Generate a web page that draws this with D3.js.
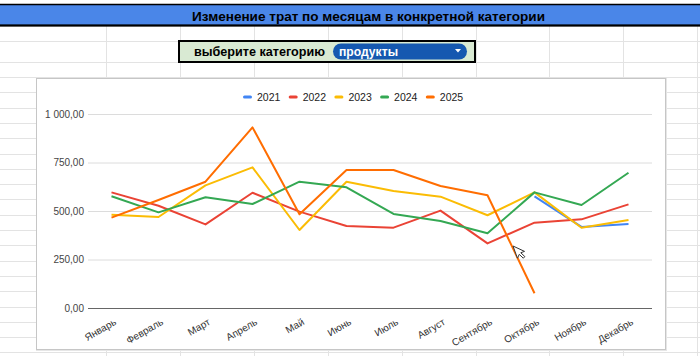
<!DOCTYPE html>
<html><head><meta charset="utf-8">
<script src="https://cdn.jsdelivr.net/npm/d3@7"></script>
<style>html,body{margin:0;padding:0;background:#fff;}svg{display:block;}</style>
</head><body>
<svg id="c" width="700" height="356"></svg>
<script>
const months = ["Январь","Февраль","Март","Апрель","Май","Июнь","Июль","Август","Сентябрь","Октябрь","Ноябрь","Декабрь"];
const years = ["2021","2022","2023","2024","2025"];
const colors = ["#4285f4","#ea4335","#fbbc04","#34a853","#ff6d01"];
const v2021 = [null,null,null,null,null,null,null,null,null,575,418,433];
const v2022 = [596,527,431,594,497,423,414,502,333,440,457,534];
const v2023 = [481,469,632,725,402,651,603,574,478,596,414,454];
const v2024 = [576,493,571,536,651,622,485,448,385,596,531,697];
const v2025 = [466,557,651,931,483,711,711,629,581,76,null,null];
const yTicks = [0,250,500,750,1000];
const titleText = "Изменение трат по месяцам в конкретной категории";
const pickLabel = "выберите категорию";
const pickValue = "продукты";

const series = [v2021,v2022,v2023,v2024,v2025];
const svg = d3.select("#c");
const FONT = "'Liberation Sans', Arial, sans-serif";

// spreadsheet grid
const grid = svg.append("g").attr("stroke","#e3e3e3").attr("stroke-width",1);
const colX = d3.range(9).map(i => 106 + i*73.9);
colX.forEach(x => grid.append("line").attr("x1",Math.round(x)+0.5).attr("x2",Math.round(x)+0.5).attr("y1",26).attr("y2",356));
const rowY = [41,62].concat(d3.range(19).map(i => 77 + i*15.3));
rowY.forEach(y => grid.append("line").attr("x1",0).attr("x2",700).attr("y1",Math.round(y)+0.5).attr("y2",Math.round(y)+0.5));

// header band
svg.append("rect").attr("x",-2).attr("y",4.5).attr("width",704).attr("height",21).attr("fill","#4a86e8").attr("stroke","#000").attr("stroke-width",1.5);
svg.append("line").attr("x1",0).attr("x2",700).attr("y1",25.5).attr("y2",25.5).attr("stroke","#000").attr("stroke-width",2);
svg.append("text").attr("x",192).attr("y",20.5).attr("font-family",FONT).attr("font-weight","bold").attr("font-size",13.5)
  .attr("textLength",353).attr("lengthAdjust","spacingAndGlyphs").attr("fill","#000").text(titleText);

// picker
svg.append("rect").attr("x",179).attr("y",41).attr("width",296).attr("height",21).attr("fill","#d9ead3").attr("stroke","#000").attr("stroke-width",2);
svg.append("text").attr("x",194).attr("y",55.5).attr("font-family",FONT).attr("font-weight","bold").attr("font-size",13.5)
  .attr("textLength",131).attr("lengthAdjust","spacingAndGlyphs").attr("fill","#000").text(pickLabel);
svg.append("rect").attr("x",333).attr("y",43.5).attr("width",134).attr("height",16).attr("rx",8).attr("fill","#1558b0");
svg.append("text").attr("x",339).attr("y",55.5).attr("font-family",FONT).attr("font-weight","bold").attr("font-size",13.5)
  .attr("textLength",59).attr("lengthAdjust","spacingAndGlyphs").attr("fill","#fff").text(pickValue);
svg.append("path").attr("d","M455,49 L461,49 L458,52.5 Z").attr("fill","#fff");

// chart box
svg.append("rect").attr("x",37).attr("y",79).attr("width",629).attr("height",271).attr("fill","none").attr("stroke","#e6e6e6").attr("stroke-width",2);
svg.append("rect").attr("x",36.5).attr("y",78.5).attr("width",629).attr("height",271).attr("fill","#fff").attr("stroke","#c6c6c6").attr("stroke-width",1);

const x = d3.scalePoint().domain(months).range([88,652]).padding(0.5);
const y = d3.scaleLinear().domain([0,1000]).range([308,114]);
const fmt = v => d3.formatLocale({decimal:",",thousands:"\u00a0",grouping:[3],currency:["",""]}).format(",.2f")(v).replace(/\u00a0/g," ");

// gridlines + y labels
const yAxis = d3.axisLeft(y).tickValues(yTicks).tickSize(-(652-88)).tickPadding(4).tickFormat(fmt);
const ya = svg.append("g").attr("transform","translate(88,0)").call(yAxis);
ya.select(".domain").remove();
ya.selectAll(".tick line").attr("stroke",d => d===0 ? "#666" : "#dcdcdc").attr("stroke-width",1);
ya.selectAll(".tick text").attr("font-family",FONT).attr("font-size",10).attr("fill","#444");

// x labels
const xAxis = d3.axisBottom(x).tickSize(0).tickPadding(0);
const xa = svg.append("g").attr("transform","translate(0,308)").call(xAxis);
xa.select(".domain").remove();
xa.selectAll(".tick text").attr("font-family",FONT).attr("font-size",10).attr("fill","#333")
  .attr("text-anchor","end").attr("dy",0).attr("y",0)
  .attr("transform","translate(5,16) rotate(-30)");

// lines
const line = d3.line().defined(d => d.v !== null).x(d => x(d.m)).y(d => y(d.v));
series.forEach((s,i) => {
  svg.append("path").datum(s.map((v,j) => ({m:months[j], v})))
    .attr("fill","none").attr("stroke",colors[i]).attr("stroke-width",2).attr("stroke-linejoin","round")
    .attr("d",line);
});

// legend
const lg = svg.append("g");
years.forEach((yr,i) => {
  const lx = 243 + i*45.7;
  lg.append("rect").attr("x",lx).attr("y",95.5).attr("width",9).attr("height",3).attr("rx",1.5).attr("fill",colors[i]);
  lg.append("text").attr("x",lx+14).attr("y",101).attr("font-family",FONT).attr("font-size",10.5).attr("fill","#222").text(yr);
});

// mouse cursor
svg.append("path").attr("d","M0,0 L0,13 L3,10 L5.5,15 L7.5,14 L5,9 L9,9 Z")
  .attr("transform","translate(513,246) rotate(-20)").attr("fill","#fff").attr("stroke","#333").attr("stroke-width",0.9);
</script>
</body></html>
